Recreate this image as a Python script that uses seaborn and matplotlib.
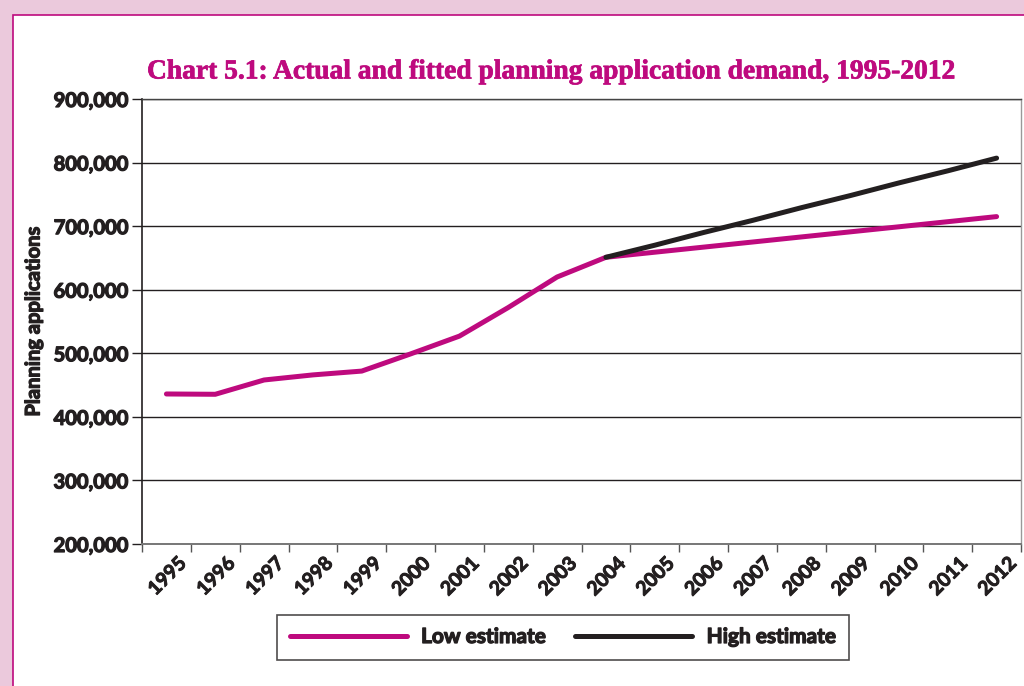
import matplotlib
matplotlib.use("Agg")
import matplotlib.pyplot as plt
import matplotlib.patches as mpatches
import matplotlib.patheffects as pe
import matplotlib.transforms as mtransforms
from matplotlib.ticker import FuncFormatter, FixedLocator
import seaborn as sns
import pandas as pd

# ---- data ----
years = list(range(1995, 2013))
low_estimate = [436000, 435500, 458000, 466000, 472000, 499000, 527000, 572000,
                620000, 651000, 659000, 667000, 675000, 683000, 691000, 699000,
                707000, 715000]
high_years = list(range(2004, 2013))
high_estimate = [651000, 670000, 690000, 709000, 729000, 748000, 768000, 787000, 807000]
yticks = [200000, 300000, 400000, 500000, 600000, 700000, 800000, 900000]

title = "Chart 5.1: Actual and fitted planning application demand, 1995-2012"
ylabel = "Planning applications"

MAGENTA = "#BE0A7E"
PINK_BG = "#EBC9DC"
INK = "#231F20"

df = pd.concat([
    pd.DataFrame({"year": years, "value": low_estimate, "series": "Low estimate"}),
    pd.DataFrame({"year": high_years, "value": high_estimate, "series": "High estimate"}),
], ignore_index=True)

sns.set_theme(style="white")
plt.rcParams["font.family"] = ["Lato", "DejaVu Sans"]
W_BOLD = "bold"
heavy = [pe.withStroke(linewidth=0.9, foreground=INK)]
heavy_x = [pe.withStroke(linewidth=0.7, foreground=INK)]

W, H = 1024, 686
fig = plt.figure(figsize=(W / 100, H / 100), dpi=100)
fig.patch.set_facecolor(PINK_BG)

# white inner panel with magenta border
panel = mpatches.Rectangle((13 / W, 0 - 0.01), 1.1, 1 - 15 / H + 0.01,
                           transform=fig.transFigure, facecolor="white",
                           edgecolor=MAGENTA, linewidth=1.2, zorder=-10)
fig.patches.append(panel)

ax = fig.add_axes([142 / W, 1 - 544 / H, (1021 - 142) / W, (544 - 99) / H])
ax.set_facecolor("white")

sns.lineplot(data=df, x="year", y="value", hue="series",
             hue_order=["Low estimate", "High estimate"],
             palette={"Low estimate": MAGENTA, "High estimate": INK},
             linewidth=3.6, ax=ax, legend=False, sort=False)
for ln in ax.get_lines():
    ln.set_solid_capstyle("round")
    ln.set_solid_joinstyle("round")
ax.get_lines()[1].set_zorder(3)

ax.set_xlim(years[0] - 0.5, years[-1] + 0.5)
ax.set_ylim(yticks[0], yticks[-1])

# y axis
ax.set_yticks(yticks)
ax.yaxis.set_major_formatter(FuncFormatter(lambda v, p: f"{int(v):,}"))
ax.tick_params(axis="y", which="major", direction="out", length=7, width=1,
               color=INK, labelsize=14.5, pad=3, left=True)
for lab in ax.get_yticklabels():
    lab.set_fontweight(W_BOLD)
    lab.set_color(INK)
    lab.set_path_effects(heavy)
ax.grid(axis="y", color=INK, linewidth=1.0)
ax.set_axisbelow(True)

# x axis: labels at centres, tick marks at boundaries
ax.set_xticks(years)
ax.set_xticklabels([str(y) for y in years], rotation=45, ha="right",
                   rotation_mode="anchor", fontsize=14, fontweight=W_BOLD,
                   color=INK)
ax.xaxis.set_minor_locator(FixedLocator([y - 0.5 for y in years] + [years[-1] + 0.5]))
ax.tick_params(axis="x", which="major", length=0, pad=4)
ax.tick_params(axis="x", which="minor", direction="out", length=6, width=1,
               color="#555555", bottom=True)
offset = mtransforms.ScaledTranslation(11 / 100, -5 / 100, fig.dpi_scale_trans)
for lab in ax.get_xticklabels():
    lab.set_transform(lab.get_transform() + offset)
    lab.set_path_effects(heavy_x)

ax.spines["left"].set_color(INK)
ax.spines["left"].set_linewidth(1.2)
ax.spines["bottom"].set_color("#777777")
ax.spines["bottom"].set_linewidth(1.4)
ax.spines["right"].set_color("#999999")
ax.spines["right"].set_linewidth(1.0)
ax.spines["top"].set_color("#444444")
ax.spines["top"].set_linewidth(1.0)

ax.set_xlabel("")
ax.set_ylabel(ylabel, fontsize=14.5, fontweight=W_BOLD, color=INK)
ax.yaxis.label.set_path_effects(heavy)
ax.yaxis.set_label_coords(-0.112, 0.5)

fig.text(551 / W, 1 - 72 / H, title, ha="center", va="center",
         fontsize=19.8, fontweight="bold", color=MAGENTA,
         family=["Liberation Serif", "DejaVu Serif"],
         path_effects=[pe.withStroke(linewidth=0.5, foreground=MAGENTA)])

# legend
handles = [plt.Line2D([], [], color=MAGENTA, linewidth=3.6, solid_capstyle="round"),
           plt.Line2D([], [], color=INK, linewidth=3.6, solid_capstyle="round")]
leg = fig.legend(handles, ["Low estimate", "High estimate"], loc="center",
                 bbox_to_anchor=(563 / W, 1 - 637 / H), ncol=2, frameon=True,
                 fancybox=False, handlelength=5.6, handletextpad=0.7,
                 columnspacing=1.4, borderpad=0.6,
                 prop={"weight": W_BOLD, "size": 15})
leg.get_frame().set_edgecolor(INK)
leg.get_frame().set_linewidth(1.2)
for t in leg.get_texts():
    t.set_color(INK)
    t.set_path_effects(heavy)

fig.savefig("out.png", dpi=100, facecolor=fig.get_facecolor())
